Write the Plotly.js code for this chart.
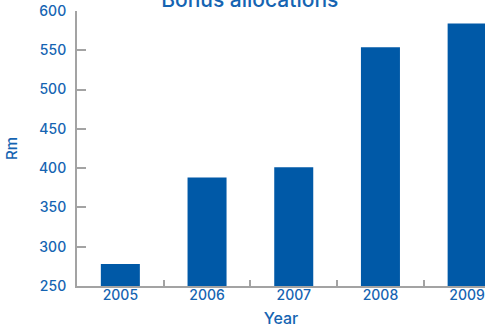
<!DOCTYPE html>
<html>
<head>
<meta charset="utf-8">
<script src="https://cdn.plot.ly/plotly-3.0.1.min.js"></script>
<style>
html,body{margin:0;padding:0;background:#fff;}
#chart{width:485px;height:328px;}
</style>
</head>
<body>
<div id="chart"></div>
<script>
const years = ["2005", "2006", "2007", "2008", "2009"];
const bonusRm = [278, 388, 401, 554, 584];
const yTicks = [250, 300, 350, 400, 450, 500, 550, 600];

const textColor = "#1564b2";
const barColor = "#0059a7";
const axisColor = "#a3a3a3";
const font = "Inter, 'Liberation Sans', Arial, sans-serif";

const data = [{
  type: "bar",
  x: years,
  y: bonusRm,
  width: 0.45,
  marker: {color: barColor, line: {width: 0}},
  hoverinfo: "skip"
}];

const layout = {
  width: 485,
  height: 328,
  margin: {l: 77, r: 0, t: 11, b: 42, pad: 0},
  paper_bgcolor: "#fff",
  plot_bgcolor: "#fff",
  showlegend: false,
  font: {family: font, color: textColor, size: 14, weight: 500},
  title: {
    text: "Bonus allocations",
    font: {family: font, size: 21, color: textColor, weight: 500},
    x: 0.515, xanchor: "center",
    y: 0.978, yanchor: "bottom", yref: "container"
  },
  xaxis: {
    type: "category",
    range: [-0.5, 4.206],
    showline: true, linecolor: axisColor, linewidth: 2,
    ticks: "inside", tickson: "boundaries", ticklen: 6, tickwidth: 2, tickcolor: axisColor,
    showgrid: false, zeroline: false,
    tickfont: {family: font, size: 14, color: textColor, weight: 500},
    ticklabelstandoff: -5,
    title: {text: "Year", font: {family: font, size: 16, color: textColor, weight: 500}, standoff: 12}
  },
  yaxis: {
    range: [250, 600],
    tickvals: yTicks,
    ticktext: yTicks.map(String),
    showline: true, linecolor: axisColor, linewidth: 2,
    ticks: "inside", ticklen: 9, tickwidth: 2, tickcolor: axisColor,
    showgrid: false, zeroline: false,
    tickfont: {family: font, size: 14, color: textColor, weight: 500},
    ticklabelstandoff: 6,
    title: {text: "Rm", font: {family: font, size: 15, color: textColor, weight: 500}, standoff: 18}
  }
};

Plotly.newPlot("chart", data, layout, {displayModeBar: false, staticPlot: true});
</script>
</body>
</html>
